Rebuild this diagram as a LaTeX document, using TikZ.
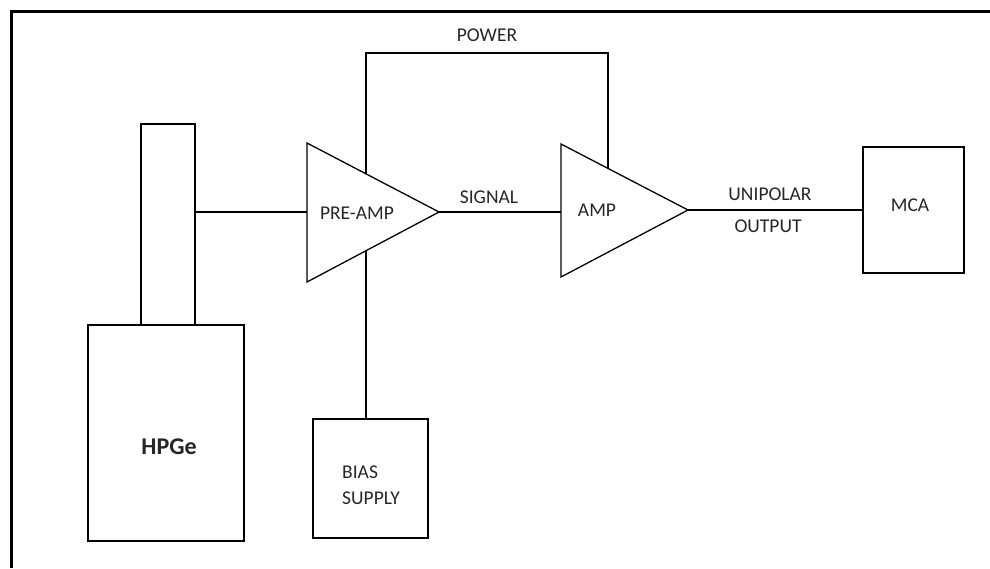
\documentclass[tikz,border=0pt]{standalone}
\usepackage{fontspec}
\setmainfont{Carlito}
\usetikzlibrary{calc}
\tikzset{
  blk/.style={draw, line width=1.3pt, inner sep=0pt, outer sep=0pt},
  lbl/.style={inner sep=0pt, text=black!85, font=\fontsize{19.5}{23}\selectfont},
  wire/.style={line width=1.3pt}
}
\begin{document}
\begin{tikzpicture}[x=1pt, y=-1pt]
  \useasboundingbox (0,0) rectangle (990,568);
  \draw[line width=3.6pt] (11.5,568) -- (11.5,11.5) -- (990,11.5);
  \node[blk, minimum width=54pt, minimum height=201pt] (neck) at (168,224.5) {};
  \node[blk, minimum width=156pt, minimum height=216pt] (hpge) at (166,433) {};
  \node[lbl, font=\fontsize{24}{28}\selectfont\bfseries] (hpgetxt) at (169,447) {HPGe};
  \node[blk, minimum width=115pt, minimum height=119pt] (bias) at (370.5,478.5) {};
  \node[lbl, anchor=west] (biastxt) at (342,472) {BIAS};
  \node[lbl, anchor=west] (supplytxt) at (342,498) {SUPPLY};
  \node[blk, minimum width=101pt, minimum height=126pt] (mca) at (913.5,210) {};
  \node[lbl] (mcatxt) at (910,205) {MCA};
  \coordinate (pre-top) at (307,143);
  \coordinate (pre-bot) at (307,282);
  \coordinate (pre-tip) at (439,212);
  \coordinate (amp-top) at (561,144);
  \coordinate (amp-bot) at (561,277);
  \coordinate (amp-tip) at (688,210);
  \draw[wire] (pre-top) -- (pre-tip) -- (pre-bot) -- cycle;
  \draw[wire] (amp-top) -- (amp-tip) -- (amp-bot) -- cycle;
  \node[lbl] (pretxt) at (357,213) {PRE-AMP};
  \node[lbl] (amptxt) at (597,210) {AMP};
  \coordinate (pre-pwr) at ($(pre-top)!0.447!(pre-tip)$);
  \coordinate (amp-pwr) at ($(amp-top)!0.37!(amp-tip)$);
  \coordinate (pre-bias) at ($(pre-bot)!0.447!(pre-tip)$);
  \coordinate (pwr-top) at (0,53);
  \begin{scope}[wire]
    \draw (neck.east |- pre-tip) -- (pre-top |- pre-tip);
    \draw (pre-tip) -- (amp-top |- pre-tip);
    \draw (amp-tip) -- (mca.west);
    \draw (pre-pwr) -- (pre-pwr |- pwr-top) -- (amp-pwr |- pwr-top) -- (amp-pwr);
    \draw (pre-bias) -- (pre-bias |- bias.north);
  \end{scope}
  \node[lbl] (pwrtxt) at (487,35) {POWER};
  \node[lbl] (sigtxt) at (489,197) {SIGNAL};
  \node[lbl] (unitxt) at (770,194) {UNIPOLAR};
  \node[lbl] (outtxt) at (768,226) {OUTPUT};
\end{tikzpicture}
\end{document}
